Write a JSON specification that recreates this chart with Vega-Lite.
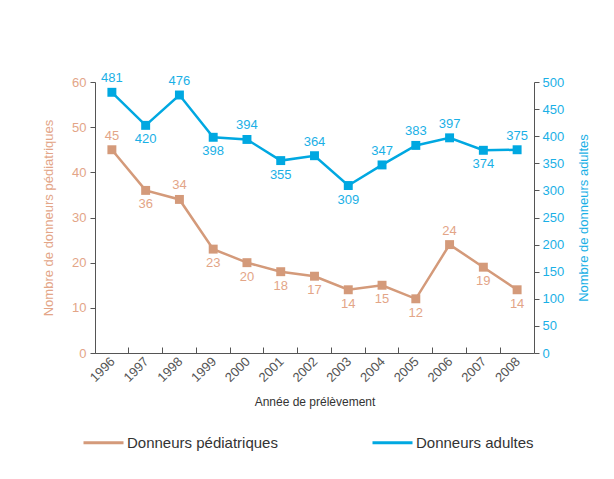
{
  "$schema": "https://vega.github.io/schema/vega-lite/v6.json",
  "width": 439,
  "height": 271,
  "autosize": "none",
  "padding": {"left": 95, "top": 82, "right": 80, "bottom": 126},
  "background": "white",
  "config": {
    "font": "Liberation Sans",
    "view": {"stroke": null},
    "axis": {"grid": false, "domainColor": "#555555", "tickColor": "#555555", "titleFontWeight": "normal"}
  },
  "data": {
    "values": [
      {"annee": "1996", "serie": "Donneurs pédiatriques", "valeur": 45},
      {"annee": "1997", "serie": "Donneurs pédiatriques", "valeur": 36},
      {"annee": "1998", "serie": "Donneurs pédiatriques", "valeur": 34},
      {"annee": "1999", "serie": "Donneurs pédiatriques", "valeur": 23},
      {"annee": "2000", "serie": "Donneurs pédiatriques", "valeur": 20},
      {"annee": "2001", "serie": "Donneurs pédiatriques", "valeur": 18},
      {"annee": "2002", "serie": "Donneurs pédiatriques", "valeur": 17},
      {"annee": "2003", "serie": "Donneurs pédiatriques", "valeur": 14},
      {"annee": "2004", "serie": "Donneurs pédiatriques", "valeur": 15},
      {"annee": "2005", "serie": "Donneurs pédiatriques", "valeur": 12},
      {"annee": "2006", "serie": "Donneurs pédiatriques", "valeur": 24},
      {"annee": "2007", "serie": "Donneurs pédiatriques", "valeur": 19},
      {"annee": "2008", "serie": "Donneurs pédiatriques", "valeur": 14},
      {"annee": "1996", "serie": "Donneurs adultes", "valeur": 481},
      {"annee": "1997", "serie": "Donneurs adultes", "valeur": 420},
      {"annee": "1998", "serie": "Donneurs adultes", "valeur": 476},
      {"annee": "1999", "serie": "Donneurs adultes", "valeur": 398},
      {"annee": "2000", "serie": "Donneurs adultes", "valeur": 394},
      {"annee": "2001", "serie": "Donneurs adultes", "valeur": 355},
      {"annee": "2002", "serie": "Donneurs adultes", "valeur": 364},
      {"annee": "2003", "serie": "Donneurs adultes", "valeur": 309},
      {"annee": "2004", "serie": "Donneurs adultes", "valeur": 347},
      {"annee": "2005", "serie": "Donneurs adultes", "valeur": 383},
      {"annee": "2006", "serie": "Donneurs adultes", "valeur": 397},
      {"annee": "2007", "serie": "Donneurs adultes", "valeur": 374},
      {"annee": "2008", "serie": "Donneurs adultes", "valeur": 375}
    ]
  },
  "encoding": {
    "x": {
      "field": "annee", "type": "ordinal",
      "scale": {"type": "band", "paddingInner": 0, "paddingOuter": 0},
      "axis": {
        "title": "Année de prélèvement", "titleColor": "#333333", "titleFontSize": 12, "titlePadding": 12,
        "labelAngle": -45, "labelAlign": "right", "labelBaseline": "middle", "labelColor": "#555555", "labelFontSize": 13,
        "bandPosition": 0, "labelOffset": 1, "tickSize": -6, "labelPadding": 12
      }
    }
  },
  "layer": [
    {
      "transform": [{"filter": "datum.serie === 'Donneurs pédiatriques'"}],
      "encoding": {
        "y": {
          "field": "valeur", "type": "quantitative",
          "scale": {"domain": [0, 60], "nice": false},
          "axis": {
            "orient": "left", "values": [0, 10, 20, 30, 40, 50, 60], "title": "Nombre de donneurs pédiatriques",
            "titleColor": "#e3a587", "titleFontSize": 13, "labelColor": "#e3a587", "labelFontSize": 13,
            "tickSize": 5, "labelPadding": 4, "titlePadding": 16
          }
        }
      },
      "layer": [
        {
          "mark": {"type": "line", "strokeWidth": 2.5},
          "encoding": {
            "color": {
              "field": "serie", "type": "nominal",
              "scale": {"domain": ["Donneurs pédiatriques", "Donneurs adultes"], "range": ["#d49a7a", "#00a8e1"]},
              "legend": {
                "title": null, "orient": "none", "legendX": -13, "legendY": 339, "direction": "horizontal",
                "symbolType": "stroke", "symbolSize": 1600, "symbolStrokeWidth": 3, "labelFontSize": 15,
                "labelColor": "#333333", "labelOffset": 2, "columnPadding": 88
              }
            }
          }
        },
        {"mark": {"type": "point", "shape": "square", "filled": true, "opacity": 1, "size": 80, "color": "#d49a7a"}},
        {
          "transform": [{"filter": {"field": "annee", "oneOf": ["1996", "1998", "2006"]}}],
          "mark": {"type": "text", "dy": -14, "fontSize": 13, "color": "#e3a587"},
          "encoding": {"text": {"field": "valeur", "type": "quantitative"}}
        },
        {
          "transform": [{"filter": {"field": "annee", "oneOf": ["1997", "1999", "2000", "2001", "2002", "2003", "2004", "2005", "2007", "2008"]}}],
          "mark": {"type": "text", "dy": 14, "fontSize": 13, "color": "#e3a587"},
          "encoding": {"text": {"field": "valeur", "type": "quantitative"}}
        }
      ]
    },
    {
      "transform": [{"filter": "datum.serie === 'Donneurs adultes'"}],
      "encoding": {
        "y": {
          "field": "valeur", "type": "quantitative",
          "scale": {"domain": [0, 500], "nice": false},
          "axis": {
            "orient": "right", "values": [0, 50, 100, 150, 200, 250, 300, 350, 400, 450, 500], "title": "Nombre de donneurs adultes",
            "titleColor": "#1ab0e6", "titleFontSize": 13, "labelColor": "#1ab0e6", "labelFontSize": 13,
            "tickSize": 5, "labelPadding": 3, "titlePadding": 14, "titleAngle": -90, "titleBaseline": "top"
          }
        }
      },
      "layer": [
        {
          "mark": {"type": "line", "strokeWidth": 2.5},
          "encoding": {"color": {"field": "serie", "type": "nominal"}}
        },
        {"mark": {"type": "point", "shape": "square", "filled": true, "opacity": 1, "size": 80, "color": "#00a8e1"}},
        {
          "transform": [{"filter": {"field": "annee", "oneOf": ["1996", "1998", "2000", "2002", "2004", "2005", "2006", "2008"]}}],
          "mark": {"type": "text", "dy": -14, "fontSize": 13, "color": "#1ab0e6"},
          "encoding": {"text": {"field": "valeur", "type": "quantitative"}}
        },
        {
          "transform": [{"filter": {"field": "annee", "oneOf": ["1997", "1999", "2001", "2003", "2007"]}}],
          "mark": {"type": "text", "dy": 14, "fontSize": 13, "color": "#1ab0e6"},
          "encoding": {"text": {"field": "valeur", "type": "quantitative"}}
        }
      ]
    }
  ],
  "resolve": {"scale": {"y": "independent"}}
}
